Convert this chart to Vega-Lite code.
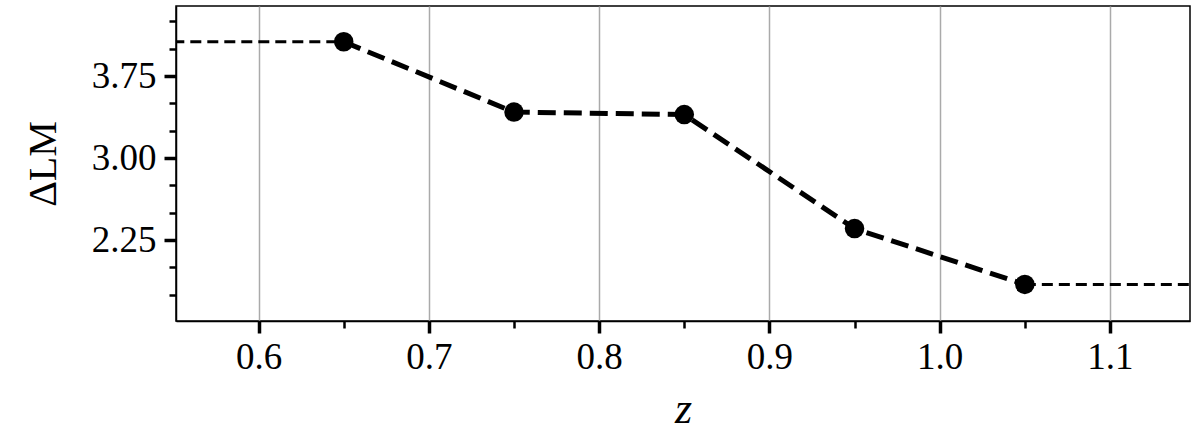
{
  "$schema": "https://vega.github.io/schema/vega-lite/v6.json",
  "width": 1014,
  "height": 315,
  "autosize": {"type": "none"},
  "padding": {"left": 176, "top": 6, "right": 10, "bottom": 121},
  "background": "white",
  "config": {
    "view": {"stroke": "#000000", "strokeWidth": 1.5},
    "axis": {
      "labelFont": "'Liberation Serif', 'DejaVu Serif', serif",
      "titleFont": "'Liberation Serif', 'DejaVu Serif', serif",
      "labelFontSize": 37,
      "labelColor": "#000000",
      "titleColor": "#000000",
      "domainColor": "#000000",
      "domainWidth": 1.5,
      "tickColor": "#000000"
    }
  },
  "datasets": {
    "pts": [
      {"z": 0.65, "d": 4.063, "part": "main"},
      {"z": 0.75, "d": 3.42, "part": "main"},
      {"z": 0.85, "d": 3.397, "part": "main"},
      {"z": 0.95, "d": 2.355, "part": "main"},
      {"z": 1.05, "d": 1.844, "part": "main"},
      {"z": 0.5, "d": 4.063, "part": "left"},
      {"z": 0.65, "d": 4.063, "part": "left"},
      {"z": 1.05, "d": 1.844, "part": "right"},
      {"z": 1.2, "d": 1.844, "part": "right"}
    ]
  },
  "data": {"name": "pts"},
  "encoding": {
    "x": {
      "field": "z",
      "type": "quantitative",
      "scale": {"domain": [0.5515, 1.147], "nice": false, "zero": false},
      "axis": {
        "title": "z",
        "titleFontStyle": "italic",
        "titleFontWeight": "normal",
        "titleFontSize": 44,
        "titlePadding": 12,
        "values": [0.6, 0.65, 0.7, 0.75, 0.8, 0.85, 0.9, 0.95, 1.0, 1.05, 1.1],
        "labelExpr": "indexof([0.6,0.7,0.8,0.9,1,1.1], datum.value) >= 0 ? format(datum.value, '.1f') : ''",
        "grid": true,
        "gridColor": "#aaaaaa",
        "gridWidth": 1.5,
        "gridOpacity": {"condition": {"test": "indexof([0.6,0.7,0.8,0.9,1,1.1], datum.value) >= 0", "value": 1}, "value": 0},
        "tickSize": {"condition": {"test": "indexof([0.6,0.7,0.8,0.9,1,1.1], datum.value) >= 0", "value": 12}, "value": 7},
        "tickWidth": {"condition": {"test": "indexof([0.6,0.7,0.8,0.9,1,1.1], datum.value) >= 0", "value": 3.5}, "value": 2.5},
        "labelPadding": 6,
        "labelFlush": false,
        "labelOverlap": false
      }
    },
    "y": {
      "field": "d",
      "type": "quantitative",
      "scale": {"domain": [1.51, 4.39], "nice": false, "zero": false},
      "axis": {
        "title": "ΔLM",
        "titleFontWeight": "normal",
        "titleFontSize": 40,
        "titlePadding": 28,
        "values": [1.75, 2.0, 2.25, 2.5, 2.75, 3.0, 3.25, 3.5, 3.75, 4.0, 4.25],
        "labelExpr": "indexof([2.25,3,3.75], datum.value) >= 0 ? format(datum.value, '.2f') : ''",
        "grid": false,
        "tickSize": {"condition": {"test": "indexof([2.25,3,3.75], datum.value) >= 0", "value": 12}, "value": 7},
        "tickWidth": {"condition": {"test": "indexof([2.25,3,3.75], datum.value) >= 0", "value": 3.5}, "value": 2.5},
        "labelPadding": 8,
        "labelFlush": false,
        "labelOverlap": false
      }
    }
  },
  "layer": [
    {
      "transform": [{"filter": "datum.part !== 'main'"}],
      "mark": {"type": "line", "color": "#000000", "strokeWidth": 3, "strokeDash": [11, 6], "clip": true},
      "encoding": {"detail": {"field": "part"}}
    },
    {
      "transform": [{"filter": "datum.part === 'main'"}],
      "mark": {"type": "line", "color": "#000000", "strokeWidth": 5, "strokeDash": [18, 8], "clip": true},
      "encoding": {}
    },
    {
      "transform": [{"filter": "datum.part === 'main'"}],
      "mark": {"type": "point", "filled": true, "shape": "circle", "color": "#000000", "opacity": 1, "size": 380},
      "encoding": {}
    }
  ]
}
